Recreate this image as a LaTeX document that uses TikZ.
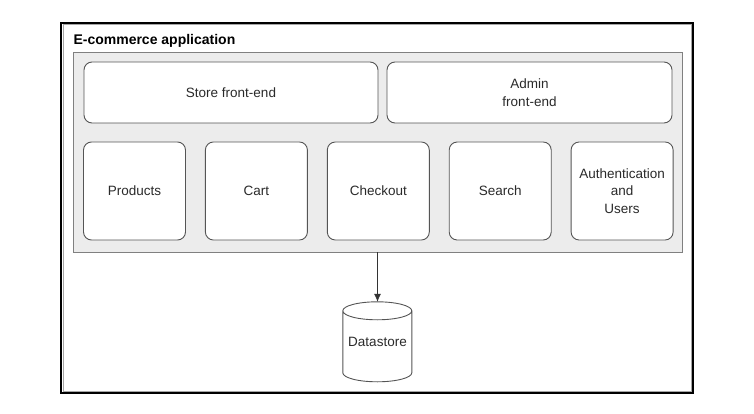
\documentclass[tikz,border=0pt]{standalone}
\usepackage{fontspec}
\setmainfont{Liberation Sans}
\usepackage{tikz}
\usetikzlibrary{positioning}
\usetikzlibrary{arrows.meta}
\usepackage{xcolor}

\definecolor{panelgray}{HTML}{ECECEC}
\definecolor{edgegray}{HTML}{555555}
\definecolor{textgray}{HTML}{2A2A2A}

\begin{document}
\begin{tikzpicture}[x=1pt,y=-1pt,
  modbox/.style={draw=edgegray, line width=0.9pt, fill=white, rounded corners=8pt,
    inner sep=0pt, align=center, text=textgray, font=\fontsize{13.5}{17.5}\selectfont},
  smallbox/.style={modbox, minimum width=102pt, minimum height=98pt},
  widebox/.style={modbox, minimum width=286pt, minimum height=61pt}]

\useasboundingbox (0,0) rectangle (754,414);

% outer frame
\draw[black, line width=2.2pt] (61,23) rectangle (693,393);
\draw[gray!70, line width=1pt] (63,25) rectangle (691,391);

\node[anchor=west, font=\bfseries\fontsize{14}{16}\selectfont] (title) at (70,41) {E-commerce application};

% gray panel
\node[draw=gray, line width=0.9pt, fill=panelgray, minimum width=609pt, minimum height=200pt,
  inner sep=0pt] (panel) at (377.5,152) {};

% front-ends
\node[widebox, minimum width=294pt] (store) at (231,92.5) {Store front-end};
\node[widebox, minimum width=285pt] (admin) at (529.5,92.5) {Admin\\front-end};

% modules
\node[smallbox] (products) at (134.5,191) {Products};
\node[smallbox, right=19pt of products] (cart) {Cart};
\node[smallbox, right=19pt of cart] (checkout) {Checkout};
\node[smallbox, right=19pt of checkout] (search) {Search};
\node[smallbox, right=19pt of search] (auth) {Authentication\\and\\Users};

% datastore
\node[minimum width=69pt, minimum height=80pt, inner sep=0pt, text=textgray,
  font=\fontsize{13.5}{17.5}\selectfont] (datastore) at (377.5,342) {Datastore};
\draw[edgegray, line width=0.9pt] (datastore.north west) ++(0,9) arc[start angle=180, end angle=0, x radius=34.5pt, y radius=-9pt]
  arc[start angle=0, end angle=-180, x radius=34.5pt, y radius=-9pt]
  -- ++(0,62) arc[start angle=180, end angle=360, x radius=34.5pt, y radius=9pt] -- ++(0,-62);

\draw[-{Latex[length=8pt,width=7pt]}, black!80, line width=0.8pt] (panel.south -| datastore) -- (datastore.north);

\end{tikzpicture}
\end{document}
